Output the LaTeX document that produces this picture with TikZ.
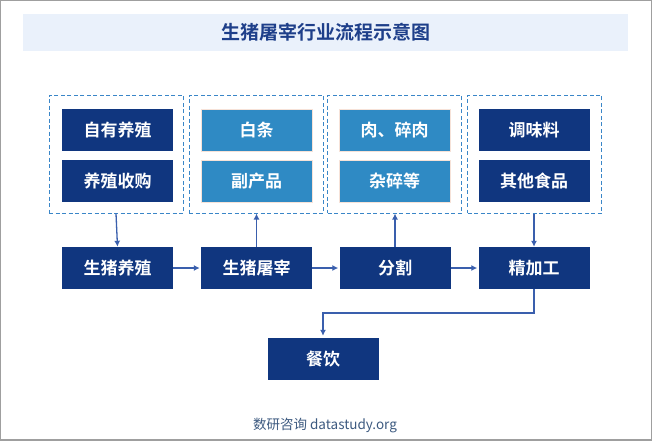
\documentclass[tikz,border=0pt]{standalone}
\usepackage{fontspec}
\usepackage{tikz}
\usetikzlibrary{arrows.meta}
\newfontfamily\cjk{Noto Sans CJK SC}
\newfontfamily\cjkbold{Noto Sans CJK SC Bold}
\definecolor{darkblue}{HTML}{10367F}
\definecolor{lightblue}{HTML}{2F8AC4}
\definecolor{peach}{HTML}{F6E2D8}
\definecolor{bandblue}{HTML}{EAF1FB}
\definecolor{titleblue}{HTML}{1E3F8A}
\definecolor{dashblue}{HTML}{3A86C8}
\definecolor{arrowblue}{HTML}{3A5FAD}
\definecolor{footgray}{HTML}{3D5A80}

\begin{document}
\begin{tikzpicture}[x=1pt, y=-1pt]
	\tikzstyle{every node} = [inner sep=0pt, font=\cjkbold\fontsize{17}{17}\selectfont]
	\tikzstyle{darkbox} = [rectangle, fill=darkblue, text=white, minimum width=111pt, minimum height=42pt]
	\tikzstyle{lightbox} = [rectangle, fill=lightblue, draw=peach, line width=0.8pt, text=white, minimum width=111pt, minimum height=42pt]
	\tikzstyle{groupbox} = [rectangle, draw=dashblue, dash pattern=on 4pt off 2.5pt, line width=1pt, minimum width=134pt, minimum height=118pt]
	\tikzstyle{flow} = [draw=arrowblue, line width=1.3pt, -{Latex[length=6pt, width=6pt]}]
	\useasboundingbox (0,0) rectangle (652,440);
	\draw [gray!75, line width=1.5pt] (0,0) rectangle (652,440);
	% title
	\node (band) [rectangle, fill=bandblue, minimum width=605pt, minimum height=37pt] at (325.5,32.5) {};
	\node (title) [text=titleblue, font=\cjkbold\fontsize{19}{19}\selectfont] at (band) {生猪屠宰行业流程示意图};
	% groups
	\node (g1) [groupbox] at (116,154) {};
	\node (g2) [groupbox] at (256,154) {};
	\node (g3) [groupbox] at (394.5,154) {};
	\node (g4) [groupbox] at (534.5,154) {};
	\node (a1) [darkbox] at (117.5,130) {自有养殖};
	\node (a2) [darkbox] at (117.5,181) {养殖收购};
	\node (b1) [lightbox] at (256.5,130) {白条};
	\node (b2) [lightbox] at (256.5,181) {副产品};
	\node (c1) [lightbox] at (394.5,130) {肉、碎肉};
	\node (c2) [lightbox] at (394.5,181) {杂碎等};
	\node (d1) [darkbox] at (534,130) {调味料};
	\node (d2) [darkbox] at (534,181) {其他食品};
	% main chain
	\node (breed) [darkbox] at (117.5,268) {生猪养殖};
	\node (slaughter) [darkbox] at (256.5,268) {生猪屠宰};
	\node (cut) [darkbox] at (395,268) {分割};
	\node (process) [darkbox] at (534,268) {精加工};
	\node (dining) [darkbox] at (323,359) {餐饮};
	\coordinate (bend) at (534,313);
	\draw [flow] (g1.south) -- (breed.north);
	\draw [flow] (slaughter.north) -- (slaughter.north |- g2.south);
	\draw [flow] (cut.north) -- (cut.north |- g3.south);
	\draw [flow] (process.north |- g4.south) -- (process.north);
	\draw [flow, shorten >=1pt] (breed.east) -- (slaughter.west);
	\draw [flow, shorten >=1pt] (slaughter.east) -- (cut.west);
	\draw [flow, shorten >=1pt] (cut.east) -- (process.west);
	\draw [flow, shorten >=2pt] (process.south) -- (bend) -| (dining.north);
	% footer
	\node (source) [text=footgray, font=\cjk\fontsize{13.5}{13.5}\selectfont] at (325,425) {数研咨询 datastudy.org};
\end{tikzpicture}
\end{document}
